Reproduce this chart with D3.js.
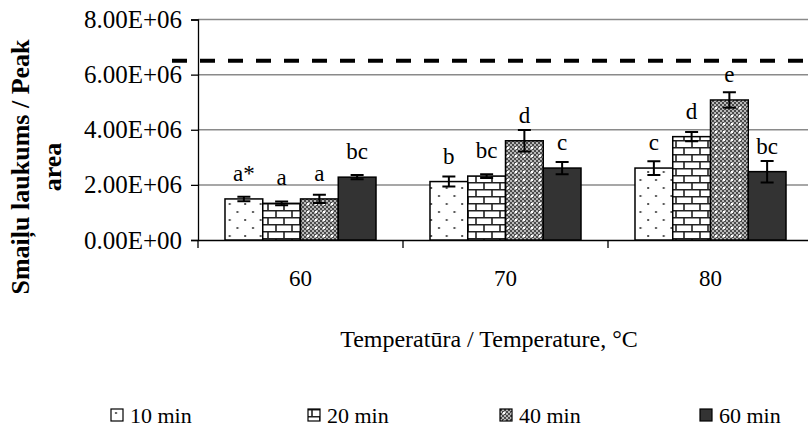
<!DOCTYPE html>
<html>
<head>
<meta charset="utf-8">
<script src="https://cdn.jsdelivr.net/npm/d3@7"></script>
<style>
  body { margin: 0; background: #fff; }
  svg { display: block; }
  text { font-family: "Liberation Serif", "Times New Roman", serif; fill: #000; }
</style>
</head>
<body>
<svg id="chart" width="808" height="428"></svg>
<script>
// data
const categories = ["60", "70", "80"];
const seriesNames = ["10 min", "20 min", "40 min", "60 min"];
const peak10 = [1.49e6, 2.12e6, 2.61e6];
const peak20 = [1.33e6, 2.32e6, 3.75e6];
const peak40 = [1.49e6, 3.60e6, 5.08e6];
const peak60 = [2.28e6, 2.61e6, 2.48e6];
const err10 = [0.08e6, 0.18e6, 0.25e6];
const err20 = [0.07e6, 0.07e6, 0.17e6];
const err40 = [0.15e6, 0.39e6, 0.28e6];
const err60 = [0.08e6, 0.22e6, 0.39e6];
const letters10 = ["a*", "b", "c"];
const letters20 = ["a", "bc", "d"];
const letters40 = ["a", "d", "e"];
const letters60 = ["bc", "c", "bc"];
const yTicks = [0, 2e6, 4e6, 6e6, 8e6];
const refLine = 6.5e6;

const peaks = [peak10, peak20, peak40, peak60];
const errs = [err10, err20, err40, err60];
const letters = [letters10, letters20, letters40, letters60];

const svg = d3.select("#chart");
const margin = {top: 19.5, left: 198, bottom: 240};
const bandW = 205;
const serif = "'Liberation Serif', 'Times New Roman', serif";

const x0 = d3.scaleBand()
  .domain(categories)
  .range([margin.left, margin.left + bandW * categories.length]);
const x1 = d3.scaleBand()
  .domain(seriesNames)
  .range([0, x0.bandwidth()])
  .paddingInner(0)
  .paddingOuter(0.715);
const y = d3.scaleLinear()
  .domain([0, 8e6])
  .range([margin.bottom, margin.top]);

// patterns
const defs = svg.append("defs");

const pDots = defs.append("pattern").attr("id", "p10")
  .attr("patternUnits", "userSpaceOnUse").attr("width", 15.5).attr("height", 16);
pDots.append("rect").attr("width", 15.5).attr("height", 16).attr("fill", "#fff");
pDots.append("rect").attr("x", 4).attr("y", 3).attr("width", 2).attr("height", 2).attr("fill", "#555");
pDots.append("rect").attr("x", 11.7).attr("y", 11).attr("width", 2).attr("height", 2).attr("fill", "#555");

const pBrick = defs.append("pattern").attr("id", "p20")
  .attr("patternUnits", "userSpaceOnUse").attr("width", 16).attr("height", 14);
pBrick.append("rect").attr("width", 16).attr("height", 14).attr("fill", "#fff");
pBrick.append("path")
  .attr("d", "M0,0.75H16M0,7.75H16M4,0V7M12,7V14")
  .attr("stroke", "#222").attr("stroke-width", 1.6).attr("fill", "none");

const pCheck = defs.append("pattern").attr("id", "p40")
  .attr("patternUnits", "userSpaceOnUse").attr("width", 8).attr("height", 8);
pCheck.append("rect").attr("width", 8).attr("height", 8).attr("fill", "#b8b8b8");
for (let i = 0; i < 4; i++) {
  for (let j = 0; j < 4; j++) {
    if ((i + j) % 2 === 0) {
      pCheck.append("rect").attr("x", i * 2).attr("y", j * 2)
        .attr("width", 2).attr("height", 2).attr("fill", "#4a4a4a");
    }
  }
}
pCheck.append("rect").attr("x", 3).attr("y", 3).attr("width", 2).attr("height", 2).attr("fill", "#fff");

const fills = ["url(#p10)", "url(#p20)", "url(#p40)", "#333"];

// gridlines
svg.append("g").selectAll("line")
  .data(yTicks.filter(d => d > 0)).enter()
  .append("line")
  .attr("x1", margin.left).attr("x2", x0.range()[1])
  .attr("y1", d => y(d)).attr("y2", d => y(d))
  .attr("stroke", "#8a8a8a").attr("stroke-width", 1.5);

// y axis
const fmt = d => {
  if (d === 0) return "0.00E+00";
  const e = Math.floor(Math.log10(d));
  return (d / Math.pow(10, e)).toFixed(2) + "E+" + String(e).padStart(2, "0");
};
const yAxis = svg.append("g")
  .attr("transform", `translate(${margin.left},0)`)
  .call(d3.axisLeft(y).tickValues(yTicks).tickSize(7).tickPadding(9).tickFormat(fmt));
yAxis.select(".domain").attr("stroke", "#000").attr("stroke-width", 1.3);
yAxis.selectAll(".tick line").attr("stroke", "#000").attr("stroke-width", 1.3);
yAxis.selectAll("text").style("font-size", "25px").style("font-family", serif);

// x axis
const xAxis = svg.append("g")
  .attr("transform", `translate(0,${margin.bottom})`)
  .call(d3.axisBottom(x0).tickSize(0).tickPadding(30));
xAxis.select(".domain").attr("stroke", "#000").attr("stroke-width", 1.3);
xAxis.selectAll("text").style("font-size", "23px").style("font-family", serif);
svg.append("g").selectAll("line")
  .data(categories.map(c => x0(c)).concat([x0.range()[1]])).enter()
  .append("line")
  .attr("x1", d => d).attr("x2", d => d)
  .attr("y1", margin.bottom).attr("y2", margin.bottom + 8)
  .attr("stroke", "#000").attr("stroke-width", 1.3);

// bars
const groups = svg.append("g").selectAll("g")
  .data(seriesNames).enter()
  .append("g");

groups.each(function(s, si) {
  const g = d3.select(this);
  categories.forEach((c, ci) => {
    const v = peaks[si][ci];
    const e = errs[si][ci];
    const bx = x0(c) + x1(s);
    const bw = x1.bandwidth();
    g.append("rect")
      .attr("x", bx).attr("y", y(v))
      .attr("width", bw).attr("height", y(0) - y(v))
      .attr("fill", fills[si])
      .attr("stroke", "#000").attr("stroke-width", 1.5);
    const cx = bx + bw / 2;
    g.append("path")
      .attr("d", `M${cx},${y(v + e)}V${y(v - e)}M${cx - 6.5},${y(v + e)}H${cx + 6.5}M${cx - 6.5},${y(v - e)}H${cx + 6.5}`)
      .attr("stroke", "#000").attr("stroke-width", 2).attr("fill", "none");
    g.append("text")
      .attr("x", cx).attr("y", y(v) - 18)
      .attr("text-anchor", "middle")
      .style("font-size", "23px")
      .text(letters[si][ci]);
  });
});

// reference line
svg.append("line")
  .attr("x1", 172).attr("x2", 808)
  .attr("y1", y(refLine)).attr("y2", y(refLine))
  .attr("stroke", "#000").attr("stroke-width", 4)
  .attr("stroke-dasharray", "15,13");

// axis titles
svg.append("text")
  .attr("x", 489).attr("y", 347)
  .attr("text-anchor", "middle")
  .style("font-size", "24px")
  .text("Temperatūra / Temperature, °C");

const yTitle = svg.append("text")
  .attr("transform", "translate(29,167) rotate(-90)")
  .attr("text-anchor", "middle")
  .style("font-size", "26px")
  .style("font-weight", "bold");
yTitle.append("tspan").attr("x", 0).attr("dy", 0).text("Smaiļu laukums / Peak");
yTitle.append("tspan").attr("x", 0).attr("dy", 32).text("area");

// legend
const legendX = [111, 308, 500, 700];
const legend = svg.append("g").selectAll("g")
  .data(seriesNames).enter()
  .append("g")
  .attr("transform", (d, i) => `translate(${legendX[i]},409)`);
legend.append("rect")
  .attr("width", 12).attr("height", 12)
  .attr("fill", (d, i) => fills[i])
  .attr("stroke", "#000").attr("stroke-width", 1.2);
legend.append("text")
  .attr("x", 19).attr("y", 13.5)
  .style("font-size", "22px")
  .text(d => d);
</script>
</body>
</html>
